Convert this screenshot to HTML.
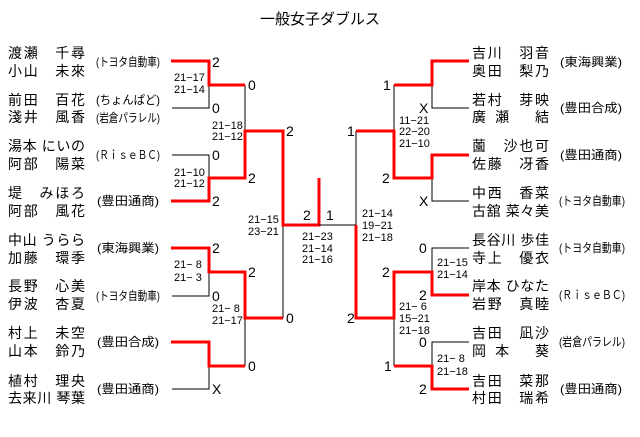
<!DOCTYPE html>
<html><head><meta charset="utf-8"><style>
html,body{margin:0;padding:0;background:#fff;width:640px;height:437px;overflow:hidden}
svg{display:block}
text{font-family:"Liberation Sans","Noto Sans CJK JP",sans-serif;fill:#000}
.n{font-size:14px}
.t{font-size:12px}
.s{font-size:11px}
.d{font-size:14px}
.r{stroke:#f00;stroke-width:3;fill:none}
.b{stroke:#000;stroke-width:1;fill:none}
</style></head><body>
<svg width="640" height="437" viewBox="0 0 640 437" xmlns="http://www.w3.org/2000/svg">
<text x="260" y="24" style="font-size:15px" textLength="120" lengthAdjust="spacingAndGlyphs">一般女子ダブルス</text>

<g class="n">
<text x="8" y="58" textLength="77" lengthAdjust="spacing">渡瀬　千尋</text>
<text x="8" y="76" textLength="77" lengthAdjust="spacing">小山　未來</text>
<text x="8" y="105" textLength="77" lengthAdjust="spacing">前田　百花</text>
<text x="8" y="122" textLength="77" lengthAdjust="spacing">淺井　風香</text>
<text x="8" y="151" textLength="77" lengthAdjust="spacing">湯本 にいの</text>
<text x="8" y="169" textLength="77" lengthAdjust="spacing">阿部　陽菜</text>
<text x="8" y="198" textLength="77" lengthAdjust="spacing">堤　みほろ</text>
<text x="8" y="216" textLength="77" lengthAdjust="spacing">阿部　風花</text>
<text x="8" y="245" textLength="77" lengthAdjust="spacing">中山 うらら</text>
<text x="8" y="263" textLength="77" lengthAdjust="spacing">加藤　環季</text>
<text x="8" y="291" textLength="77" lengthAdjust="spacing">長野　心美</text>
<text x="8" y="309" textLength="77" lengthAdjust="spacing">伊波　杏夏</text>
<text x="8" y="338" textLength="77" lengthAdjust="spacing">村上　未空</text>
<text x="8" y="356" textLength="77" lengthAdjust="spacing">山本　鈴乃</text>
<text x="8" y="386" textLength="77" lengthAdjust="spacing">植村　理央</text>
<text x="8" y="403" textLength="77" lengthAdjust="spacing">去来川 琴葉</text>
</g>
<g class="t">
<text x="96" y="66" textLength="64" lengthAdjust="spacingAndGlyphs">(トヨタ自動車)</text>
<text x="96" y="104" textLength="64" lengthAdjust="spacingAndGlyphs">(ちょんぱど)</text>
<text x="96" y="122" textLength="64" lengthAdjust="spacingAndGlyphs">(岩倉パラレル)</text>
<text x="96" y="159" textLength="64" lengthAdjust="spacingAndGlyphs">(ＲｉｓｅＢＣ)</text>
<text x="97" y="205" textLength="62" lengthAdjust="spacingAndGlyphs">(豊田通商)</text>
<text x="97" y="252" textLength="62" lengthAdjust="spacingAndGlyphs">(東海興業)</text>
<text x="96" y="300" textLength="64" lengthAdjust="spacingAndGlyphs">(トヨタ自動車)</text>
<text x="97" y="346" textLength="62" lengthAdjust="spacingAndGlyphs">(豊田合成)</text>
<text x="97" y="393" textLength="62" lengthAdjust="spacingAndGlyphs">(豊田通商)</text>
</g>

<g class="n">
<text x="472" y="58" textLength="77" lengthAdjust="spacing">吉川　羽音</text>
<text x="472" y="76" textLength="77" lengthAdjust="spacing">奥田　梨乃</text>
<text x="472" y="105" textLength="77" lengthAdjust="spacing">若村　芽映</text>
<text x="472" y="122" textLength="77" lengthAdjust="spacing">廣 瀬　 結</text>
<text x="472" y="151" textLength="77" lengthAdjust="spacing">薗　沙也可</text>
<text x="472" y="169" textLength="77" lengthAdjust="spacing">佐藤　冴香</text>
<text x="472" y="198" textLength="77" lengthAdjust="spacing">中西　香菜</text>
<text x="472" y="216" textLength="77" lengthAdjust="spacing">古舘 菜々美</text>
<text x="472" y="245" textLength="77" lengthAdjust="spacing">長谷川 歩佳</text>
<text x="472" y="263" textLength="77" lengthAdjust="spacing">寺上　優衣</text>
<text x="472" y="291" textLength="77" lengthAdjust="spacing">岸本 ひなた</text>
<text x="472" y="309" textLength="77" lengthAdjust="spacing">岩野　真睦</text>
<text x="472" y="338" textLength="77" lengthAdjust="spacing">吉田　凪沙</text>
<text x="472" y="356" textLength="77" lengthAdjust="spacing">岡 本　 葵</text>
<text x="472" y="386" textLength="77" lengthAdjust="spacing">吉田　菜那</text>
<text x="472" y="403" textLength="77" lengthAdjust="spacing">村田　瑞希</text>
</g>
<g class="t">
<text x="560" y="66" textLength="62" lengthAdjust="spacingAndGlyphs">(東海興業)</text>
<text x="560" y="112" textLength="62" lengthAdjust="spacingAndGlyphs">(豊田合成)</text>
<text x="560" y="159" textLength="62" lengthAdjust="spacingAndGlyphs">(豊田通商)</text>
<text x="559" y="205" textLength="66" lengthAdjust="spacingAndGlyphs">(トヨタ自動車)</text>
<text x="559" y="252" textLength="66" lengthAdjust="spacingAndGlyphs">(トヨタ自動車)</text>
<text x="559" y="299" textLength="66" lengthAdjust="spacingAndGlyphs">(ＲｉｓｅＢＣ)</text>
<text x="559" y="346" textLength="66" lengthAdjust="spacingAndGlyphs">(岩倉パラレル)</text>
<text x="560" y="393" textLength="62" lengthAdjust="spacingAndGlyphs">(豊田通商)</text>
</g>

<path class="b" d="M172 108H209V85 M172 155H209V178 M245 85V131 M172 296H209V272 M172 389H209V366 M245 318V366 M283 225V318"/>
<path class="r" d="M171 61H209V85H245 M171 201H209V178H245V131H283V225H319V178 M171 248H209V272H245V318H283 M171 342H209V366H245"/>
<path class="b" d="M319 225H356V131 M469 108H432V85 M469 201H432V178 M394 85V131 M469 248H432V272 M469 342H432V366 M394 318V366"/>
<path class="r" d="M469 61H432V85H394 M469 155H432V178H394V131H356 M356 225V318H394V272H432V295H469 M394 366H432V389H469"/>

<g class="d">
<text x="212" y="67">2</text><text x="212" y="113">0</text>
<text x="212" y="160">0</text><text x="212" y="206">2</text>
<text x="248" y="90">0</text><text x="248" y="183">2</text>
<text x="286" y="136">2</text>
<text x="212" y="253">2</text><text x="212" y="301">0</text>
<text x="212" y="394">X</text>
<text x="248" y="277">2</text><text x="248" y="371">0</text>
<text x="286" y="323">0</text>
<text x="303" y="220">2</text><text x="326" y="220">1</text>
<text x="383" y="90">1</text><text x="419" y="113">X</text>
<text x="419" y="206">X</text><text x="382" y="183">2</text>
<text x="347" y="136">1</text>
<text x="419" y="253">0</text><text x="419" y="300">2</text>
<text x="382" y="277">2</text><text x="347" y="323">2</text>
<text x="419" y="347">0</text><text x="419" y="394">2</text>
<text x="384" y="371">1</text>
</g>

<g class="s">
<text x="174" y="81">21−17</text><text x="174" y="93">21−14</text>
<text x="212" y="129">21−18</text><text x="212" y="140">21−12</text>
<text x="174" y="176">21−10</text><text x="174" y="187">21−12</text>
<text x="248" y="223">21−15</text><text x="248" y="235">23−21</text>
<text x="174" y="268">21−  8</text><text x="174" y="281">21−  3</text>
<text x="212" y="312">21−  8</text><text x="212" y="324">21−17</text>
<text x="302" y="240">21−23</text><text x="302" y="252">21−14</text><text x="302" y="263">21−16</text>
<text x="362" y="217">21−14</text><text x="362" y="229">19−21</text><text x="362" y="241">21−18</text>
<text x="399" y="124">11−21</text><text x="399" y="135">22−20</text><text x="399" y="147">21−10</text>
<text x="437" y="266">21−15</text><text x="437" y="278">21−14</text>
<text x="399" y="310">21−  6</text><text x="399" y="322">15−21</text><text x="399" y="334">21−18</text>
<text x="437" y="362">21−  8</text><text x="437" y="375">21−18</text>
</g>
</svg>
</body></html>
